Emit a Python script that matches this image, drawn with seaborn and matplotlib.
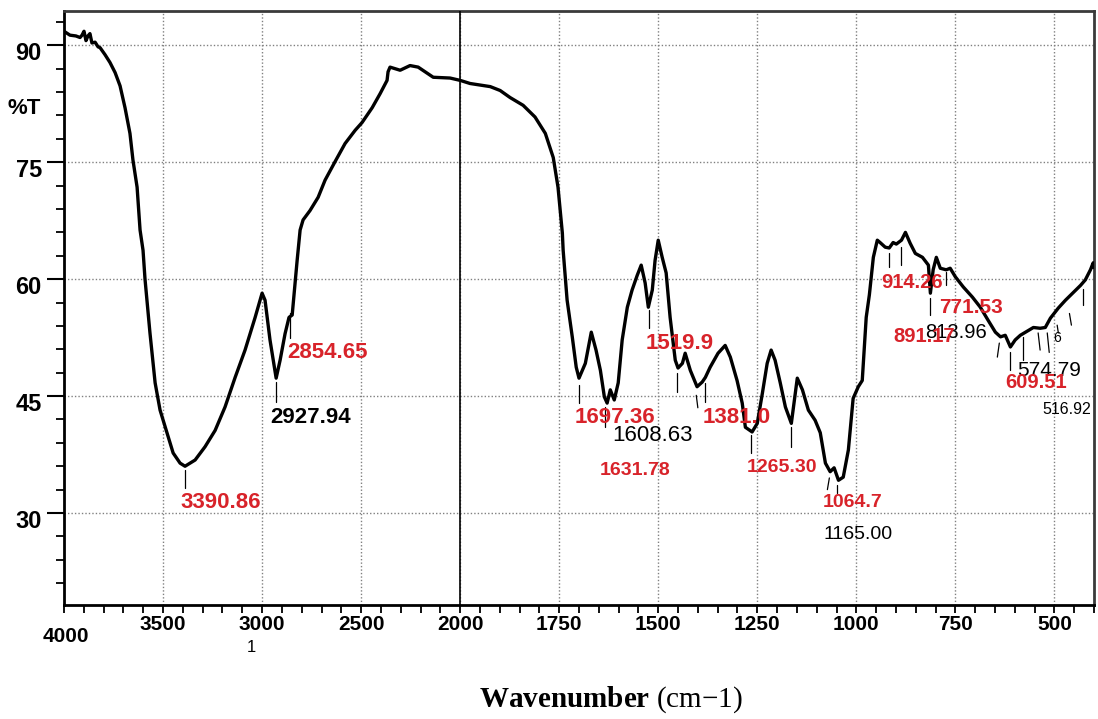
import numpy as np
import pandas as pd
import matplotlib
matplotlib.use("Agg")
import matplotlib.pyplot as plt
import seaborn as sns
from matplotlib.ticker import FixedLocator, FixedFormatter, NullFormatter
from matplotlib.transforms import ScaledTranslation

# ---------------- data ----------------
wavenumber = [4000, 3970, 3940, 3919, 3909, 3899, 3889, 3879, 3869, 3859, 3843, 3828, 3818,
              3793, 3768, 3742, 3717, 3692, 3667, 3652, 3631, 3616, 3601, 3591, 3566, 3540,
              3515, 3480, 3449, 3414, 3389, 3338, 3288, 3237, 3187, 3136, 3086, 3035, 3000,
              2985, 2960, 2929, 2909, 2884, 2864, 2848, 2838, 2823, 2808, 2793, 2758, 2717,
              2682, 2631, 2581, 2530, 2495, 2444, 2404, 2369, 2364, 2354, 2328, 2303, 2253,
              2212, 2136, 2051, 2000, 1975, 1924, 1899, 1874, 1841, 1811, 1785, 1765, 1753,
              1742, 1740, 1730, 1717, 1707, 1700, 1684, 1669, 1657, 1646, 1636, 1629, 1621,
              1611, 1601, 1591, 1578, 1566, 1553, 1543, 1533, 1525, 1515, 1508, 1500, 1490,
              1480, 1470, 1457, 1450, 1439, 1432, 1419, 1402, 1389, 1381, 1369, 1349, 1331,
              1318, 1301, 1288, 1280, 1263, 1250, 1237, 1225, 1215, 1205, 1192, 1179, 1164,
              1154, 1149, 1136, 1121, 1104, 1091, 1078, 1066, 1056, 1045, 1033, 1020, 1008,
              995, 985, 975, 967, 957, 947, 940, 927, 917, 907, 899, 886, 876, 864, 851, 833,
              818, 813, 806, 798, 788, 773, 763, 750, 730, 707, 687, 667, 649, 636, 624, 611,
              599, 586, 573, 553, 536, 523, 510, 490, 472, 452, 434, 422, 409, 402, 400]
transmittance = [91.8, 91.3, 91.2, 91.0, 91.3, 91.8, 90.6, 91.2, 91.5, 90.3, 90.4, 89.8, 89.7,
                 88.8, 87.8, 86.5, 84.8, 82.0, 78.7, 75.3, 71.8, 66.3, 63.7, 60.0, 53.1, 46.7,
                 43.2, 40.3, 37.7, 36.4, 36.0, 36.8, 38.5, 40.6, 43.6, 47.4, 50.9, 55.1, 58.2,
                 57.3, 52.2, 47.3, 49.6, 53.0, 55.1, 55.4, 58.2, 62.4, 66.3, 67.6, 68.8, 70.5,
                 72.7, 75.1, 77.4, 79.1, 80.1, 82.0, 83.8, 85.5, 86.6, 87.2, 87.0, 86.8, 87.4,
                 87.2, 85.9, 85.8, 85.5, 85.1, 84.7, 84.2, 83.3, 82.3, 80.8, 78.7, 75.6, 71.8,
                 65.9, 63.7, 57.3, 52.6, 48.7, 47.3, 49.2, 53.2, 50.9, 48.3, 44.9, 44.1, 45.8,
                 44.5, 46.7, 52.2, 56.4, 58.6, 60.5, 61.8, 59.5, 56.4, 58.6, 62.4, 65.0, 62.8,
                 60.8, 55.1, 49.6, 48.6, 49.2, 50.5, 48.3, 46.2, 46.8, 47.4, 48.7, 50.5, 51.5,
                 50.0, 47.0, 44.1, 41.0, 40.4, 41.5, 45.4, 49.2, 50.9, 49.6, 46.7, 43.6, 41.5,
                 45.4, 47.3, 45.8, 43.2, 41.9, 40.3, 36.4, 35.3, 35.8, 34.2, 34.6, 38.1, 44.7,
                 46.2, 47.0, 55.1, 58.0, 62.8, 65.0, 64.7, 64.1, 64.0, 64.7, 64.5, 65.0, 66.0,
                 64.6, 63.3, 62.8, 61.8, 58.2, 61.2, 62.8, 61.4, 61.2, 61.4, 60.3, 59.0, 57.7,
                 56.4, 54.7, 53.2, 52.6, 52.8, 51.3, 52.2, 52.8, 53.2, 53.8, 53.7, 53.8, 55.0,
                 56.3, 57.3, 58.3, 59.2, 59.9, 61.2, 62.1, 61.5]

x_major_ticks = [3500, 3000, 2500, 2000, 1750, 1500, 1250, 1000, 750, 500]
x_tick_labels = ["3500", "3000", "2500", "2000", "1750", "1500", "1250", "1000", "750", "500"]
y_major_ticks = [30, 45, 60, 75, 90]
y_tick_labels = ["30", "45", "60", "75", "90"]

# peak labels: text, anchor wavenumber, anchor %T
peak_text = ["2927.94", "1608.63", "1165.00", "813.96", "574.79", "516.92", "6",
             "3390.86", "2854.65", "1697.36", "1631.78", "1519.9", "1381.0", "1265.30",
             "1064.7", "914.26", "891.17", "771.53", "609.51"]
peak_wn = [2753, 1514, 996, 748, 513, 469, 493,
           3207, 2669, 1609, 1559, 1447, 1303, 1187,
           1010, 859, 828, 711, 546]
peak_t = [42.3, 40.0, 27.2, 53.2, 48.3, 43.3, 52.4,
          31.4, 50.6, 42.3, 35.5, 51.8, 42.3, 35.9,
          31.3, 59.6, 52.6, 56.4, 46.7]
peak_is_red = [False] * 7 + [True] * 12

# peak marker segments: (wn top, wn bottom, %T top, %T bottom)
mark_wn_top = [3389, 2859, 2929, 1700, 1634, 1523, 1452, 1404, 1381, 1265, 1164, 1068, 1048,
               917, 886, 813, 773, 639, 611, 578, 541, 518, 493, 462, 427]
mark_wn_bot = [3389, 2859, 2929, 1700, 1634, 1523, 1452, 1400, 1381, 1265, 1164, 1073, 1048,
               917, 886, 813, 773, 644, 611, 578, 536, 513, 490, 457, 427]
mark_t_top = [35.5, 55.6, 46.8, 46.4, 43.6, 56.0, 47.9, 45.1, 46.7, 40.0, 41.0, 34.5, 33.6,
              63.3, 64.1, 57.6, 60.9, 51.8, 50.6, 52.6, 53.1, 53.1, 54.1, 55.6, 58.8]
mark_t_bot = [33.2, 52.4, 44.2, 44.1, 41.0, 53.7, 45.5, 43.5, 44.2, 37.7, 38.5, 33.0, 32.6,
              61.5, 61.8, 55.4, 59.2, 50.0, 48.3, 49.6, 50.9, 50.6, 53.1, 54.1, 56.7]

# ---------------- style ----------------
sns.set_style("white")
plt.rcParams["font.family"] = ["Liberation Sans", "DejaVu Sans"]
plt.rcParams["text.color"] = "black"
plt.rcParams["axes.labelcolor"] = "black"
plt.rcParams["xtick.color"] = "black"
plt.rcParams["ytick.color"] = "black"
plt.rcParams["mathtext.fontset"] = "custom"
plt.rcParams["mathtext.bf"] = "Liberation Serif:bold"
plt.rcParams["mathtext.rm"] = "Liberation Serif"

NARROW = ["Liberation Sans Narrow", "Liberation Sans"]
RED = "#d8232a"

fig = plt.figure(figsize=(10.98, 7.19), dpi=100)
ax = fig.add_axes([64 / 1098, 1 - 605 / 719, (1094 - 64) / 1098, (605 - 11) / 719])


def fwd(x):
    x = np.asarray(x, dtype=float)
    return np.where(x >= 2000, (x - 2000) / 2.0, x - 2000)


def inv(u):
    u = np.asarray(u, dtype=float)
    return np.where(u >= 0, 2000 + 2.0 * u, u + 2000)


ax.set_xscale("function", functions=(fwd, inv))

df = pd.DataFrame({"wavenumber": wavenumber, "T": transmittance})
sns.lineplot(data=df, x="wavenumber", y="T", ax=ax, color="black", lw=2.4,
             estimator=None, sort=False, zorder=5)

ax.set_xlim(4000, 400)
ax.set_ylim(18.2, 94.4)

# ticks
ax.xaxis.set_major_locator(FixedLocator(x_major_ticks))
ax.xaxis.set_major_formatter(FixedFormatter(x_tick_labels))
minor_x = list(range(4000, 2000, -100)) + list(range(2000, 399, -50))
ax.xaxis.set_minor_locator(FixedLocator(minor_x))
ax.xaxis.set_minor_formatter(NullFormatter())
ax.yaxis.set_major_locator(FixedLocator(y_major_ticks))
ax.yaxis.set_major_formatter(FixedFormatter(y_tick_labels))
ax.yaxis.set_minor_locator(FixedLocator(list(range(21, 94, 3))))
ax.yaxis.set_minor_formatter(NullFormatter())

ax.tick_params(axis="x", which="both", direction="out", length=5.5, width=1.3,
               color="black", pad=2, bottom=True, labelcolor="black")
ax.tick_params(axis="y", which="major", direction="out", length=12, width=1.5,
               color="black", pad=4, left=True, labelcolor="black")
ax.tick_params(axis="y", which="minor", direction="out", length=6, width=1.3,
               color="black", left=True)

for lab in ax.get_yticklabels():
    lab.set_fontfamily(NARROW)
    lab.set_fontweight("bold")
    lab.set_fontsize(17)
    lab.set_transform(lab.get_transform() + ScaledTranslation(0, -4 / 72, fig.dpi_scale_trans))
for lab in ax.get_xticklabels():
    lab.set_fontfamily(NARROW)
    lab.set_fontweight("bold")
    lab.set_fontsize(15)

# grid
ax.grid(True, which="major", color="0.5", linestyle=(0, (1, 1.5)), lw=1.0)
ax.axvline(2000, color="black", lw=1.2, zorder=3)

for side in ["left", "bottom"]:
    ax.spines[side].set_color("black")
    ax.spines[side].set_linewidth(2.0)
for side in ["top", "right"]:
    ax.spines[side].set_color("#3a3a3a")
    ax.spines[side].set_linewidth(2.0)

# peak marker segments
for xt, xb, yt, yb in zip(mark_wn_top, mark_wn_bot, mark_t_top, mark_t_bot):
    ax.plot([xt, xb], [yt, yb], color="black", lw=0.9, zorder=4)

# peak labels (black first, red on top)
size_map = {"3390.86": 16, "2854.65": 16, "2927.94": 16, "1697.36": 16, "1608.63": 16,
            "1631.78": 14, "1519.9": 16, "1381.0": 16, "1265.30": 14, "1064.7": 14,
            "1165.00": 14, "914.26": 14.5, "813.96": 14.5, "891.17": 14.5, "771.53": 15,
            "609.51": 14.5, "574.79": 15, "516.92": 11.5, "6": 10}
for txt, xw, yt, red in zip(peak_text, peak_wn, peak_t, peak_is_red):
    weight = "bold" if (red or txt == "2927.94") else "normal"
    ax.text(xw, yt, txt, color=RED if red else "black", fontsize=size_map[txt],
            fontweight=weight, ha="center", va="center", zorder=7 if red else 6)

# %T label and stray axis texts
fig.text(24 / 1098, 1 - 108 / 719, "%T", fontsize=16, fontweight="bold",
         family=NARROW, ha="center", va="center", color="black")
fig.text(66 / 1098, 1 - 637 / 719, "4000", fontsize=15, fontweight="bold",
         family=NARROW, ha="center", va="center", color="black")
fig.text(251 / 1098, 1 - 647 / 719, "1", fontsize=12, family=NARROW,
         ha="center", va="center", color="black")

ax.set_xlabel(r"$\mathbf{Wavenumber}$ (cm−1)", fontsize=21, family="Liberation Serif",
              va="center", color="black")
ax.xaxis.set_label_coords((611 - 64) / 1030, (605 - 700) / 594)
ax.set_ylabel("")

fig.savefig("out.png", dpi=100)
